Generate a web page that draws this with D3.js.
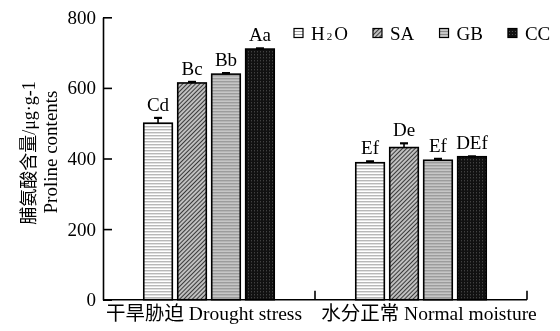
<!DOCTYPE html>
<html>
<head>
<meta charset="utf-8">
<script src="https://cdn.jsdelivr.net/npm/d3@7"></script>
<style>
  body { margin: 0; background: #fff; }
  svg { filter: grayscale(1); }
  svg text { font-family: "Liberation Serif", "Noto Sans CJK SC", serif; fill: #000; }
</style>
</head>
<body>
<div id="chart"></div>
<script>
// Data
const groups = ["干旱胁迫 Drought stress", "水分正常 Normal moisture"];
const treatments = ["H2O", "SA", "GB", "CC"];
const means = [
  [500, 614, 639, 710],   // drought stress
  [388, 431, 395, 405]    // normal moisture
];
const errs = [
  [15, 3, 3, 2],
  [4, 12, 4, 1]
];
const letters = [
  ["Cd", "Bc", "Bb", "Aa"],
  ["Ef", "De", "Ef", "DEf"]
];
const yTicks = [0, 200, 400, 600, 800];

const W = 560, H = 331;
const margin = { top: 17.3, right: 33, bottom: 31.3, left: 103 };
const width = W - margin.left - margin.right;
const height = H - margin.top - margin.bottom;

const svg = d3.select("#chart").append("svg")
    .attr("width", W)
    .attr("height", H);

// Fill patterns for the four treatments
const defs = svg.append("defs");

// H2O: white with thin grey horizontal lines
const p1 = defs.append("pattern").attr("id", "pat-H2O")
    .attr("patternUnits", "userSpaceOnUse").attr("width", 4).attr("height", 3);
p1.append("rect").attr("width", 4).attr("height", 3).attr("fill", "#fff");
p1.append("line").attr("x1", 0).attr("x2", 4).attr("y1", 1.5).attr("y2", 1.5)
    .attr("stroke", "#9a9a9a").attr("stroke-width", 1);

// SA: fine diagonal hatch
const p2 = defs.append("pattern").attr("id", "pat-SA")
    .attr("patternUnits", "userSpaceOnUse").attr("width", 3).attr("height", 3)
    .attr("patternTransform", "rotate(45)");
p2.append("rect").attr("width", 3).attr("height", 3).attr("fill", "#d8d8d8");
p2.append("line").attr("x1", 1.5).attr("x2", 1.5).attr("y1", 0).attr("y2", 3)
    .attr("stroke", "#3a3a3a").attr("stroke-width", 1.3);

// GB: grey horizontal stripes
const p3 = defs.append("pattern").attr("id", "pat-GB")
    .attr("patternUnits", "userSpaceOnUse").attr("width", 4).attr("height", 3);
p3.append("rect").attr("width", 4).attr("height", 3).attr("fill", "#e0e0e0");
p3.append("line").attr("x1", 0).attr("x2", 4).attr("y1", 1.5).attr("y2", 1.5)
    .attr("stroke", "#8a8a8a").attr("stroke-width", 1.6);

// CC: black with faint dots
const p4 = defs.append("pattern").attr("id", "pat-CC")
    .attr("patternUnits", "userSpaceOnUse").attr("width", 3).attr("height", 3);
p4.append("rect").attr("width", 3).attr("height", 3).attr("fill", "#111");
p4.append("rect").attr("x", 1).attr("y", 1).attr("width", 1).attr("height", 1).attr("fill", "#555");

const g = svg.append("g")
    .attr("transform", "translate(" + margin.left + "," + margin.top + ")");

// Scales
const x0 = d3.scaleBand().domain(groups).range([0, width]).padding(0);
const x1 = d3.scaleBand().domain(treatments)
    .range([0, x0.bandwidth()])
    .paddingInner(0.16)
    .paddingOuter(1.2);
const y = d3.scaleLinear().domain([0, 800]).range([height, 0]);

// Bars
const rows = [];
groups.forEach((grp, gi) => {
    treatments.forEach((t, ti) => {
        rows.push({ grp: grp, t: t, v: means[gi][ti], e: errs[gi][ti], lab: letters[gi][ti] });
    });
});

g.selectAll("rect.bar")
    .data(rows)
    .enter().append("rect")
    .attr("class", "bar")
    .attr("x", d => x0(d.grp) + x1(d.t))
    .attr("y", d => y(d.v))
    .attr("width", x1.bandwidth())
    .attr("height", d => y(0) - y(d.v))
    .attr("fill", d => "url(#pat-" + d.t + ")")
    .attr("stroke", "#000")
    .attr("stroke-width", 1.6);

// Error bars (upper half only)
const cap = 4;
const eb = g.selectAll("g.err")
    .data(rows)
    .enter().append("g")
    .attr("class", "err")
    .attr("stroke", "#000")
    .attr("stroke-width", 1.6);
eb.append("line")
    .attr("x1", d => x0(d.grp) + x1(d.t) + x1.bandwidth() / 2)
    .attr("x2", d => x0(d.grp) + x1(d.t) + x1.bandwidth() / 2)
    .attr("y1", d => y(d.v))
    .attr("y2", d => y(d.v + d.e));
eb.append("line")
    .attr("x1", d => x0(d.grp) + x1(d.t) + x1.bandwidth() / 2 - cap)
    .attr("x2", d => x0(d.grp) + x1(d.t) + x1.bandwidth() / 2 + cap)
    .attr("y1", d => y(d.v + d.e))
    .attr("y2", d => y(d.v + d.e))
    .attr("stroke-width", 2.2);

// Significance letters
g.selectAll("text.lab")
    .data(rows)
    .enter().append("text")
    .attr("class", "lab")
    .attr("x", d => x0(d.grp) + x1(d.t) + x1.bandwidth() / 2)
    .attr("y", d => y(d.v + d.e) - 7)
    .attr("text-anchor", "middle")
    .style("font-size", "19px")
    .text(d => d.lab);

// Y axis with inward ticks
const yAxis = g.append("g")
    .call(d3.axisLeft(y).tickValues(yTicks).tickSize(-9).tickSizeOuter(0).tickPadding(7));
yAxis.select(".domain").attr("stroke", "#000").attr("stroke-width", 1.6);
yAxis.selectAll(".tick line").attr("stroke", "#000").attr("stroke-width", 1.6);
yAxis.selectAll(".tick text")
    .style("font-size", "19px")
    .style("font-family", "'Liberation Serif', serif");

// X axis: baseline plus upward ticks at group boundaries
g.append("line")
    .attr("x1", 0).attr("x2", width)
    .attr("y1", y(0)).attr("y2", y(0))
    .attr("stroke", "#000").attr("stroke-width", 1.6);
g.selectAll("line.xtick")
    .data(groups)
    .enter().append("line")
    .attr("class", "xtick")
    .attr("x1", d => x0(d) + x0.bandwidth())
    .attr("x2", d => x0(d) + x0.bandwidth())
    .attr("y1", y(0))
    .attr("y2", y(0) - 9)
    .attr("stroke", "#000").attr("stroke-width", 1.6);

const labShift = [-5, 8];
g.selectAll("text.xlab")
    .data(groups)
    .enter().append("text")
    .attr("class", "xlab")
    .attr("x", (d, i) => x0(d) + x0.bandwidth() / 2 + labShift[i])
    .attr("y", height + 20)
    .attr("text-anchor", "middle")
    .style("font-size", "19.5px")
    .text(d => d);

// Y axis title, two lines
svg.append("text")
    .attr("transform", "translate(35," + 153 + ") rotate(-90)")
    .attr("text-anchor", "middle")
    .style("font-size", "18px")
    .text("脯氨酸含量/μg·g-1");
svg.append("text")
    .attr("transform", "translate(57," + 152 + ") rotate(-90)")
    .attr("text-anchor", "middle")
    .style("font-size", "19px")
    .text("Proline contents");

// Legend
const legend = svg.append("g").attr("transform", "translate(294,33)");
let lx = 0;
treatments.forEach(t => {
    const item = legend.append("g").attr("transform", "translate(" + lx + ",0)");
    item.append("rect")
        .attr("x", 0).attr("y", -4.5)
        .attr("width", 9).attr("height", 9)
        .attr("fill", "url(#pat-" + t + ")")
        .attr("stroke", "#000").attr("stroke-width", 1.2);
    const txt = item.append("text")
        .attr("x", 17)
        .attr("y", 6.5)
        .style("font-size", "19px");
    if (t === "H2O") {
        txt.append("tspan").text("H");
        txt.append("tspan").style("font-size", "11px").attr("dx", 2).text("2");
        txt.append("tspan").attr("dx", 2).text("O");
    } else {
        txt.text(t);
    }
    const tw = txt.node().getBBox().width;
    lx += 17 + tw + 25;
});
</script>
</body>
</html>
